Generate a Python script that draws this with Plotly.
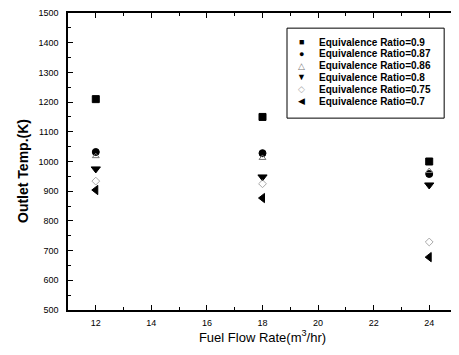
import plotly.graph_objects as go

flow_rates = [12, 18, 24]
labels = ["Equivalence Ratio=0.9", "Equivalence Ratio=0.87", "Equivalence Ratio=0.86",
          "Equivalence Ratio=0.8", "Equivalence Ratio=0.75", "Equivalence Ratio=0.7"]
er_090 = [1210, 1150, 1000]
er_087 = [1032, 1028, 958]
er_086 = [1018, 1012, 968]
er_080 = [975, 948, 921]
er_075 = [934, 925, 729]
er_070 = [904, 877, 678]

series = [er_090, er_087, er_086, er_080, er_075, er_070]
symbols = ["square", "circle", "triangle-up-open", "triangle-down", "diamond-open", "triangle-left"]
glyphs = ["\u25A0", "\u25CF", "\u25B3", "\u25BC", "\u25C7", "\u25C0"]
colors = ["black", "black", "#777777", "black", "#aaaaaa", "black"]
sizes = [7, 7, 6, 8, 6, 8]

FONT = "Arial, Liberation Sans, sans-serif"

fig = go.Figure()
for lab, vals, sym, col, sz in zip(labels, series, symbols, colors, sizes):
    fig.add_trace(go.Scatter(x=flow_rates, y=vals, mode="markers", name=lab,
                             marker=dict(symbol=sym, color=col, size=sz,
                                         line=dict(color=col, width=1))))

axis_common = dict(showline=True, linecolor="black", linewidth=1.5, mirror="ticks",
                   ticks="inside", ticklen=5, tickcolor="black", showgrid=False,
                   zeroline=False, automargin=False,
                   tickfont=dict(family=FONT, size=9, color="black"))

fig.update_xaxes(range=[11, 25], dtick=2, tick0=12,
                 minor=dict(ticks="inside", dtick=1, ticklen=3, tickcolor="black"),
                 title=dict(text="Fuel Flow Rate(m<sup>3</sup>/hr)", standoff=6,
                            font=dict(family=FONT, size=13, color="black")),
                 ticklabelstandoff=3,
                 **axis_common)
fig.update_yaxes(range=[500, 1500], dtick=100,
                 minor=dict(ticks="inside", dtick=50, ticklen=3, tickcolor="black"),
                 ticklabelstandoff=6,
                 **axis_common)

# y axis title placed as an annotation (slightly below the plot centre, as in the reference)
fig.add_annotation(text="<b>Outlet Temp.(K)</b>", textangle=-90, xref="paper", yref="paper",
                   x=0, y=0.468, xanchor="center", yanchor="middle", xshift=-45,
                   showarrow=False, font=dict(family=FONT, size=14, color="black"))

# legend box, drawn as a shape with a glyph column and a label column
fig.add_shape(type="rect", xref="paper", yref="paper", x0=0.563, x1=0.967, y0=0.646, y1=0.949,
              line=dict(color="black", width=1), fillcolor="white", layer="above")
row_top = 0.902
row_step = 0.0397
for i, (g, c, lab) in enumerate(zip(glyphs, colors, labels)):
    yy = row_top - i * row_step
    fig.add_annotation(text=g, xref="paper", yref="paper", x=0.6015, y=yy,
                       xanchor="center", yanchor="middle", showarrow=False, borderpad=0,
                       font=dict(family=FONT, size=9, color=c))
    fig.add_annotation(text=f"<b>{lab}</b>", xref="paper", yref="paper", x=0.643, y=yy,
                       xanchor="left", yanchor="middle", showarrow=False, borderpad=0,
                       font=dict(family=FONT, size=10, color="black"))

fig.update_layout(width=451, height=347, margin=dict(l=60, r=2, t=5, b=45),
                  plot_bgcolor="white", paper_bgcolor="white", showlegend=False)

fig.write_html("out.html")
